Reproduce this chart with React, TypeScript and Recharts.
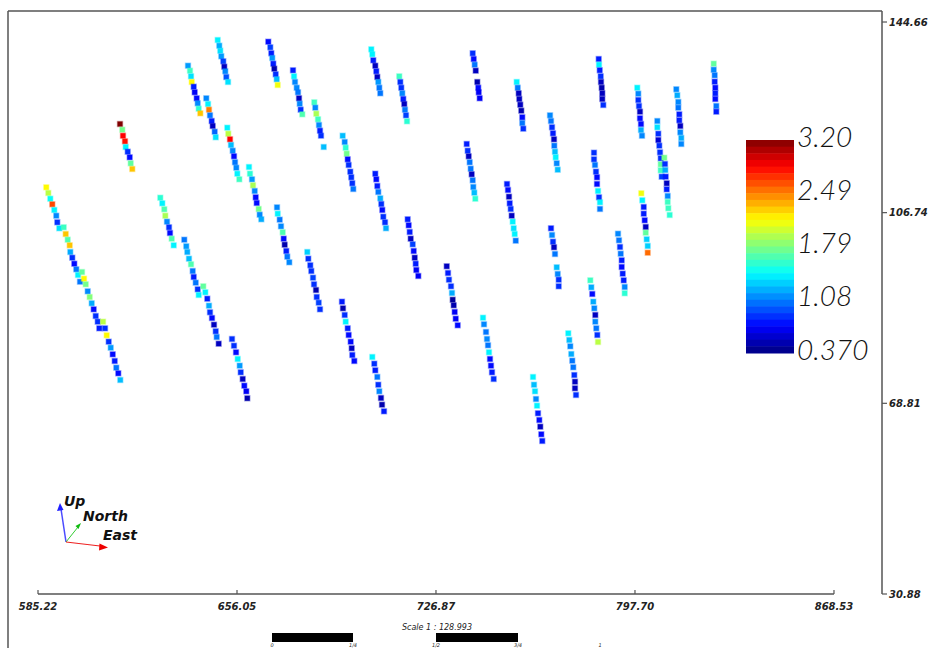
import React from 'react';
import { ReferenceLine, Scatter, ScatterChart, XAxis, YAxis } from 'recharts';

// [easting, elevation, grade]
type Sample = [number, number, number];

const DH01: Sample[] = [[614.41, 124.37, 3.2], [615.23, 123.24, 1.75], [615.47, 122.04, 2.85], [616.18, 120.93, 2.8], [616.43, 119.8, 1.4], [617.15, 118.86, 0.85], [617.86, 117.75, 0.75], [618.21, 116.55, 1.7], [618.78, 115.42, 2.3]];
const DH02: Sample[] = [[649.18, 141.08, 1.4], [649.75, 139.95, 1.2], [650.1, 138.95, 1.35], [650.46, 137.84, 1.15], [651.17, 136.85, 0.9], [651.53, 135.77, 0.55], [651.88, 134.86, 1.1], [652.24, 133.72, 0.95], [652.85, 132.73, 1.35]];
const DH03: Sample[] = [[667.19, 140.74, 0.75], [667.9, 139.63, 0.9], [668.26, 138.44, 0.8], [668.61, 137.5, 1.15], [668.97, 136.37, 0.8], [669.33, 135.37, 0.5], [669.82, 134.26, 0.85], [670.18, 133.27, 1.25], [670.53, 132.13, 2.1]];
const DH04: Sample[] = [[675.98, 135.06, 0.8], [676.34, 133.86, 1.4], [676.69, 132.73, 1.1], [677.3, 131.59, 1.1], [677.76, 130.68, 1.05], [678.12, 129.49, 0.55], [678.37, 128.41, 1.1], [678.72, 127.22, 0.85], [679.29, 126.3, 1.65]];
const DH05: Sample[] = [[638.61, 135.97, 1.15], [639.32, 134.98, 1.6], [639.68, 133.86, 1.35], [639.93, 132.73, 2.15], [640.64, 131.79, 0.8], [640.99, 130.68, 0.7], [641.7, 129.49, 0.75], [642.06, 128.49, 1.1], [642.42, 127.42, 1.55], [642.99, 126.5, 2.3]];
const DH06: Sample[] = [[645.12, 129.49, 1.1], [645.73, 128.35, 1.4], [646.08, 127.22, 2.5], [646.44, 126.1, 1.05], [647.04, 124.97, 0.8], [647.4, 123.98, 0.55], [648.11, 122.84, 1.0], [648.47, 121.73, 1.35]];
const DH07: Sample[] = [[652.6, 123.64, 1.4], [652.95, 122.44, 1.95], [653.56, 121.33, 2.85], [653.91, 120.2, 1.25], [654.52, 119.06, 1.1], [654.98, 117.95, 0.75], [655.34, 116.76, 1.05], [655.8, 115.68, 1.1], [656.16, 114.49, 1.4], [656.87, 113.37, 1.6]];
const DH08: Sample[] = [[660.32, 115.82, 1.4], [660.68, 114.49, 1.55], [661.39, 113.37, 1.15], [661.74, 112.18, 1.9], [662.35, 111.05, 1.1], [662.7, 109.79, 0.75], [663.06, 108.66, 0.75], [663.77, 107.47, 1.75], [664.13, 106.33, 1.1], [664.7, 105.42, 1.2]];
const DH09: Sample[] = [[670.29, 107.8, 1.1], [670.54, 106.53, 1.4], [671.25, 105.34, 1.05], [671.71, 104.02, 1.1], [672.31, 102.83, 1.65], [672.67, 101.56, 0.75], [673.02, 100.36, 0.5], [673.59, 99.11, 0.8], [673.95, 97.98, 1.05], [674.66, 96.86, 1.1]];
const DH10: Sample[] = [[588.17, 111.78, 2.15], [588.89, 110.65, 1.95], [589.6, 109.51, 1.45], [590.31, 108.4, 2.65], [591.02, 107.27, 1.4], [591.73, 106.13, 1.1], [592.09, 104.82, 0.85], [592.8, 103.63, 1.35]];
const DH11: Sample[] = [[594.37, 103.83, 1.6], [595.08, 102.49, 2.3], [595.79, 101.36, 1.65], [596.5, 100.24, 2.3], [596.72, 98.91, 1.2], [597.43, 97.78, 0.85], [598.14, 96.58, 0.75], [598.85, 95.47, 1.05], [599.46, 94.34, 1.4], [600.17, 93.0, 1.05]];
const DH12: Sample[] = [[600.88, 94.93, 1.7], [601.59, 93.6, 2.15], [602.2, 92.49, 1.75], [602.91, 91.09, 1.1], [603.62, 89.96, 1.8], [604.33, 88.71, 1.2], [605.04, 87.51, 0.75], [605.76, 86.18, 0.85], [606.47, 85.05, 0.85], [607.04, 83.73, 0.8]];
const DH13: Sample[] = [[608.36, 85.05, 1.95], [609.07, 83.73, 0.85], [609.67, 82.34, 2.15], [610.38, 81.07, 0.85], [611.1, 79.87, 1.15], [611.81, 78.56, 0.75], [612.52, 77.23, 0.8], [613.09, 75.9, 1.05], [613.8, 74.78, 0.75], [614.51, 73.45, 1.25]];
const DH14: Sample[] = [[628.75, 109.71, 1.55], [629.46, 108.6, 1.4], [630.17, 107.41, 1.65], [630.53, 106.13, 1.9], [631.13, 104.94, 1.1], [631.85, 103.83, 0.85], [632.2, 102.69, 0.75], [632.81, 101.56, 1.65], [633.52, 100.24, 1.4]];
const DH15: Sample[] = [[637.29, 101.36, 1.05], [638.0, 100.05, 1.15], [638.36, 98.91, 1.2], [638.96, 97.58, 1.25], [639.68, 96.47, 1.65], [640.28, 95.13, 1.05], [640.64, 93.94, 0.8], [641.35, 92.81, 1.05], [642.06, 91.49, 0.85], [642.42, 90.36, 1.4]];
const DH16: Sample[] = [[644.05, 92.09, 1.7], [644.77, 90.9, 1.4], [645.48, 89.62, 0.8], [646.08, 88.23, 1.2], [646.44, 86.92, 0.85], [647.15, 85.78, 0.75], [647.86, 84.45, 0.55], [648.47, 83.14, 0.85], [648.82, 82.0, 1.05], [649.53, 80.67, 0.55]];
const DH17: Sample[] = [[654.27, 81.61, 0.85], [654.98, 80.27, 0.85], [655.7, 78.96, 0.75], [656.3, 77.63, 1.4], [657.01, 76.3, 1.15], [657.37, 74.98, 0.85], [658.08, 73.65, 0.55], [658.65, 72.32, 0.75], [659.36, 71.2, 0.7], [659.72, 69.81, 0.5]];
const DH18: Sample[] = [[681.07, 98.91, 1.3], [681.43, 97.58, 0.85], [682.14, 96.27, 0.85], [682.5, 95.13, 0.85], [683.1, 93.8, 0.9], [683.46, 92.49, 0.85], [684.17, 91.35, 0.5], [684.42, 89.96, 0.85], [685.13, 88.83, 0.9], [685.59, 87.51, 0.85]];
const DH19: Sample[] = [[703.85, 139.23, 1.4], [704.21, 138.24, 1.4], [704.56, 137.04, 0.8], [705.27, 135.97, 0.55], [705.63, 134.86, 0.8], [705.99, 133.72, 0.55], [706.34, 132.73, 1.15], [706.7, 131.59, 1.05], [707.05, 130.48, 1.05]];
const DH20: Sample[] = [[713.81, 133.86, 1.6], [714.17, 132.73, 0.85], [714.53, 131.59, 0.85], [714.88, 130.48, 1.1], [715.24, 129.35, 0.8], [715.59, 128.35, 0.55], [715.84, 127.22, 1.05], [716.2, 126.1, 0.9], [716.55, 124.91, 1.55]];
const DH21: Sample[] = [[683.56, 128.69, 1.6], [683.92, 127.62, 1.1], [684.27, 126.42, 1.9], [684.88, 125.31, 1.6], [685.23, 124.17, 1.1], [685.59, 123.04, 0.8], [685.95, 122.05, 0.85], [686.91, 119.8, 1.25]];
const DH22: Sample[] = [[693.66, 122.04, 1.25], [694.38, 120.79, 1.1], [694.73, 119.66, 1.55], [695.09, 118.47, 1.75], [695.45, 117.35, 0.75], [695.8, 116.22, 0.85], [696.37, 114.89, 0.85], [696.73, 113.77, 0.85], [697.09, 112.58, 0.85], [697.44, 111.44, 1.05]];
const DH23: Sample[] = [[705.27, 114.49, 0.8], [705.63, 113.37, 0.75], [705.99, 112.04, 0.8], [706.34, 110.85, 1.05], [707.05, 109.59, 1.2], [707.41, 108.46, 0.85], [707.77, 107.27, 0.75], [708.12, 105.93, 0.85], [708.73, 104.82, 0.85], [709.08, 103.63, 1.2]];
const DH24: Sample[] = [[716.8, 105.42, 0.8], [717.16, 104.22, 0.75], [717.52, 102.89, 0.8], [717.87, 101.56, 0.55], [718.58, 100.44, 0.9], [718.94, 99.11, 0.75], [719.3, 97.78, 0.55], [719.65, 96.58, 0.8], [719.87, 95.33, 0.7], [720.58, 94.14, 0.7]];
const DH25: Sample[] = [[739.94, 138.44, 0.85], [740.3, 137.3, 0.75], [740.65, 136.17, 1.05], [741.01, 134.98, 0.55], [741.58, 132.73, 0.5], [741.93, 131.59, 0.75], [742.08, 130.68, 0.7], [742.43, 129.49, 0.7]];
const DH26: Sample[] = [[755.6, 132.73, 1.4], [755.96, 131.59, 1.05], [756.31, 130.48, 0.55], [756.53, 129.35, 0.55], [756.88, 128.21, 0.55], [757.24, 127.02, 0.5], [757.59, 125.71, 0.75], [757.59, 124.57, 1.05], [757.95, 123.44, 0.85]];
const DH27: Sample[] = [[784.79, 137.3, 0.8], [784.9, 136.17, 1.4], [785.15, 135.06, 0.8], [785.5, 133.86, 0.85], [785.61, 132.73, 0.55], [785.86, 131.59, 0.5], [786.07, 130.48, 0.55], [786.07, 129.35, 0.55], [786.42, 128.15, 0.85]];
const DH28: Sample[] = [[767.46, 126.1, 1.1], [767.81, 124.97, 1.05], [768.17, 123.72, 0.85], [768.52, 122.52, 0.8], [768.88, 121.33, 0.55], [768.98, 120.06, 1.05], [769.23, 118.86, 1.25], [769.48, 117.75, 1.4], [769.84, 116.55, 1.1], [770.2, 115.28, 1.25]];
const DH29: Sample[] = [[737.8, 120.4, 0.8], [738.16, 119.06, 0.85], [738.51, 117.95, 0.55], [738.87, 116.76, 1.05], [739.23, 115.48, 1.05], [739.58, 114.37, 0.55], [739.94, 113.18, 1.05], [740.15, 111.84, 1.1], [740.51, 110.71, 1.25], [740.87, 109.51, 1.55]];
const DH30: Sample[] = [[752.15, 112.44, 0.8], [752.5, 111.25, 0.75], [752.86, 109.91, 0.55], [753.11, 108.6, 0.8], [753.47, 107.47, 0.85], [753.82, 106.13, 0.55], [754.18, 104.94, 1.4], [754.53, 103.63, 1.35], [754.89, 102.49, 1.4], [755.25, 101.16, 1.05]];
const DH31: Sample[] = [[783.11, 118.67, 0.85], [783.11, 117.35, 0.85], [783.47, 116.22, 1.05], [783.82, 114.89, 0.85], [784.18, 113.77, 0.75], [784.18, 112.44, 0.75], [784.54, 111.05, 1.4], [784.9, 109.79, 0.85], [785.25, 108.8, 1.4], [785.25, 107.47, 1.05]];
const DH32: Sample[] = [[767.81, 103.63, 0.8], [768.17, 102.29, 1.1], [768.52, 100.96, 0.85], [768.88, 99.85, 0.55], [769.23, 98.51, 1.05]];
const DH33: Sample[] = [[769.84, 95.87, 1.25], [770.2, 94.54, 1.1], [770.55, 93.4, 0.85], [770.55, 92.09, 0.85]];
const DH34: Sample[] = [[730.69, 96.07, 0.55], [731.15, 94.73, 0.8], [731.5, 93.4, 0.85], [732.22, 92.09, 0.85], [732.57, 90.76, 1.2], [732.82, 89.42, 0.45], [733.18, 88.31, 0.5], [733.53, 86.98, 0.7], [733.89, 85.64, 0.7], [734.6, 84.33, 0.75]];
const DH35: Sample[] = [[743.61, 85.84, 1.4], [743.96, 84.53, 1.1], [744.67, 83.0, 1.05], [745.03, 81.61, 1.1], [745.39, 80.35, 1.05], [745.74, 78.96, 1.4], [746.1, 77.63, 0.75], [746.45, 76.3, 0.75], [746.81, 74.98, 0.8], [747.41, 73.65, 0.85]];
const DH36: Sample[] = [[693.41, 89.03, 0.8], [693.77, 87.71, 0.5], [694.38, 86.38, 0.85], [694.73, 85.05, 1.4], [695.45, 83.73, 0.8], [695.8, 82.4, 0.75], [696.51, 81.07, 0.75], [696.87, 79.76, 0.55], [697.09, 78.42, 0.8], [697.8, 77.23, 0.75]];
const DH37: Sample[] = [[704.21, 78.03, 1.4], [704.92, 76.69, 0.85], [705.27, 75.38, 0.8], [705.99, 74.05, 1.05], [706.34, 72.51, 0.85], [706.7, 71.2, 1.1], [707.3, 69.87, 0.55], [707.66, 68.54, 0.5], [708.37, 67.22, 0.8]];
const DH38: Sample[] = [[761.41, 74.05, 1.4], [761.76, 72.51, 1.25], [762.12, 71.2, 1.35], [762.47, 69.67, 1.1], [762.83, 68.34, 1.4], [763.18, 66.83, 0.8], [763.65, 65.49, 0.75], [764.0, 64.16, 0.55], [764.36, 62.65, 0.75], [764.71, 61.32, 0.8]];
const DH39: Sample[] = [[773.96, 82.74, 1.4], [774.32, 81.41, 1.25], [774.68, 80.15, 1.1], [775.03, 78.62, 1.2], [775.39, 77.29, 1.05], [775.74, 75.98, 1.05], [776.1, 74.44, 0.85], [776.35, 73.11, 0.55], [776.35, 71.8, 0.55], [776.71, 70.47, 0.85]];
const DH40: Sample[] = [[781.8, 93.28, 1.6], [782.16, 91.89, 1.2], [782.51, 90.56, 0.75], [782.87, 89.03, 1.2], [783.22, 87.71, 1.1], [783.58, 86.38, 0.55], [783.58, 85.05, 1.1], [783.93, 83.73, 1.05], [784.29, 82.4, 0.85], [784.54, 81.01, 1.95]];
const DH41: Sample[] = [[791.66, 102.55, 1.1], [792.01, 101.24, 1.05], [792.37, 99.91, 0.85], [792.62, 98.57, 1.05], [792.97, 97.26, 0.8], [792.97, 95.93, 0.75], [793.33, 94.6, 0.8], [793.68, 93.28, 0.8], [794.04, 91.95, 1.1], [794.04, 90.7, 1.55]];
const DH42: Sample[] = [[799.95, 110.59, 2.1], [800.31, 109.2, 1.4], [800.81, 107.86, 0.8], [800.81, 106.53, 0.8], [801.16, 105.22, 0.75], [801.52, 103.89, 0.55], [801.52, 102.75, 1.7], [801.87, 101.44, 1.3], [802.23, 100.11, 1.3], [802.23, 98.77, 2.55]];
const DH43: Sample[] = [[805.65, 124.97, 1.1], [805.65, 123.72, 1.35], [806.0, 122.44, 0.85], [806.0, 121.19, 0.6], [806.36, 120.06, 0.85], [806.61, 118.74, 0.85], [806.86, 117.55, 0.85], [806.86, 116.36, 1.7], [806.86, 115.16, 1.6], [807.21, 113.89, 0.9]];
const DH44: Sample[] = [[808.13, 117.67, 1.75], [808.38, 116.42, 0.85], [808.49, 115.22, 1.2], [808.63, 113.89, 0.8], [808.99, 112.58, 0.55], [808.99, 111.38, 0.8], [809.34, 110.05, 1.1], [809.34, 108.86, 1.6], [809.56, 107.61, 1.6], [810.05, 106.27, 1.55]];
const DH45: Sample[] = [[798.52, 131.59, 1.4], [798.88, 130.4, 1.1], [798.88, 129.15, 0.85], [799.13, 127.95, 0.85], [799.48, 126.82, 0.55], [799.48, 125.51, 0.75], [799.84, 124.37, 0.75], [799.84, 123.18, 1.2], [800.2, 122.04, 1.1]];
const DH46: Sample[] = [[812.41, 131.28, 1.1], [812.76, 130.08, 1.2], [813.12, 128.75, 1.1], [813.12, 127.62, 1.05], [813.47, 126.3, 0.8], [813.47, 125.11, 0.8], [813.83, 123.98, 0.55], [813.83, 122.72, 1.1], [814.18, 121.59, 1.2], [814.18, 120.4, 1.1]];
const DH47: Sample[] = [[825.72, 136.37, 1.7], [825.72, 135.17, 1.1], [826.07, 134.06, 1.05], [826.07, 132.79, 0.8], [826.29, 131.59, 0.75], [826.29, 130.48, 0.8], [826.29, 129.35, 0.75], [826.64, 127.95, 1.05], [826.64, 126.82, 0.8]];

const HOLES: Sample[][] = [
  DH01, DH02, DH03, DH04, DH05, DH06, DH07, DH08, DH09, DH10, DH11, DH12,
  DH13, DH14, DH15, DH16, DH17, DH18, DH19, DH20, DH21, DH22, DH23, DH24,
  DH25, DH26, DH27, DH28, DH29, DH30, DH31, DH32, DH33, DH34, DH35, DH36,
  DH37, DH38, DH39, DH40, DH41, DH42, DH43, DH44, DH45, DH46, DH47,
];

const X_TICKS = [585.22, 656.05, 726.87, 797.7, 868.53];
const Y_TICKS = [144.66, 106.74, 68.81, 30.88];
const GRADE_TICKS = [3.2, 2.49, 1.79, 1.08, 0.37];
const GRADE_MIN = 0.37;
const GRADE_MAX = 3.2;
const SCALE_LABELS = ['0', '1/4', '1/2', '3/4', '1'];

// view window is a little wider/taller than the labelled range (axis frame)
const X_DOMAIN: [number, number] = [585.22, 885.62];
const Y_DOMAIN: [number, number] = [30.88, 146.85];

const AXIS_COLOR = '#555';
const AXIS_FONT: React.CSSProperties = {
  fontFamily: '"DejaVu Sans", sans-serif',
  fontSize: 10,
  fontWeight: 'bold',
  fontStyle: 'italic',
};

const clamp = (v: number) => Math.max(0, Math.min(1, v));

// classic "jet" ramp
function jet(value: number): string {
  const t = clamp((value - GRADE_MIN) / (GRADE_MAX - GRADE_MIN));
  const r = clamp(1.5 - Math.abs(4 * t - 3));
  const g = clamp(1.5 - Math.abs(4 * t - 2));
  const b = clamp(1.5 - Math.abs(4 * t - 1));
  const hex = (c: number) => Math.round(c * 255).toString(16).padStart(2, '0');
  return `#${hex(r)}${hex(g)}${hex(b)}`;
}

const SampleMark = (props: any) => {
  const { cx, cy, payload } = props;
  if (cx == null || cy == null) return null;
  const color = jet(payload.grade);
  return (
    <rect
      x={cx - 2.5}
      y={cy - 2.5}
      width={5}
      height={5}
      fill={color}
      stroke={color}
      strokeOpacity={0.35}
      strokeWidth={1.4}
    />
  );
};

const XTick = (props: any) => {
  const { x, y, payload } = props;
  return (
    <g>
      <line x1={x} x2={x} y1={y - 4} y2={y} stroke={AXIS_COLOR} strokeWidth={1.2} />
      <text x={x} y={y + 16} textAnchor="middle" fill="#222" style={AXIS_FONT}>
        {Number(payload.value).toFixed(2)}
      </text>
    </g>
  );
};

const YTick = (props: any) => {
  const { x, y, payload } = props;
  return (
    <text x={x} y={y} dy="0.35em" textAnchor="start" fill="#222" style={AXIS_FONT}>
      {Number(payload.value).toFixed(2)}
    </text>
  );
};

const BAR = { x: 746, y: 140, w: 48, h: 213, bands: 32 };

const ColorBar = () => {
  const bandH = BAR.h / BAR.bands;
  const bands = Array.from({ length: BAR.bands }, (_, i) => {
    const v = GRADE_MAX - ((i + 0.5) / BAR.bands) * (GRADE_MAX - GRADE_MIN);
    return <rect key={i} x={BAR.x} y={BAR.y + i * bandH} width={BAR.w} height={bandH + 0.5} fill={jet(v)} />;
  });
  return (
    <g>
      {bands}
      {GRADE_TICKS.map((v) => {
        const ty = BAR.y + ((GRADE_MAX - v) / (GRADE_MAX - GRADE_MIN)) * BAR.h - 3.5;
        return (
          <text
            key={v}
            x={BAR.x + BAR.w + 3}
            y={ty}
            dy="0.36em"
            fill="#111"
            style={{ fontFamily: 'Lato, "Open Sans", sans-serif', fontSize: 28, fontStyle: 'italic', fontWeight: 300 }}
          >
            {v.toPrecision(3)}
          </text>
        );
      })}
    </g>
  );
};

const TRIAD_FONT: React.CSSProperties = {
  fontFamily: '"DejaVu Sans", sans-serif',
  fontSize: 14,
  fontWeight: 'bold',
  fontStyle: 'italic',
};

const OrientationTriad = () => (
  <g>
    <line x1={66} y1={542} x2={61} y2={509} stroke="#4a4aff" strokeWidth={1.5} />
    <polygon points="60,503 57,511 63.5,510" fill="#2020ff" />
    <line x1={66} y1={542} x2={78} y2={527} stroke="#3c3" strokeWidth={1} />
    <polygon points="81,523 75.5,526 78.5,529" fill="#1b1" />
    <line x1={66} y1={542} x2={100} y2={546} stroke="#e22" strokeWidth={1.2} />
    <polygon points="108,547.5 99.5,543.5 99,550.5" fill="#e00" />
    <text x={64} y={506} fill="#111" style={TRIAD_FONT}>Up</text>
    <text x={83} y={521} fill="#111" style={TRIAD_FONT}>North</text>
    <text x={103} y={540} fill="#111" style={TRIAD_FONT}>East</text>
  </g>
);

const SCALE_FONT: React.CSSProperties = {
  fontFamily: '"DejaVu Sans", sans-serif',
  fontStyle: 'italic',
};

// scale bar: alternating filled quarters between 0 and 1
const SCALE_X = [272, 353, 436, 518, 600];

const ScaleBar = () => (
  <g>
    <text x={437} y={630} textAnchor="middle" fill="#222" style={{ ...SCALE_FONT, fontSize: 8 }}>
      Scale 1 : 128.993
    </text>
    <rect x={SCALE_X[0]} y={633} width={SCALE_X[1] - SCALE_X[0]} height={9} fill="#000" />
    <rect x={SCALE_X[2]} y={633} width={SCALE_X[3] - SCALE_X[2]} height={9} fill="#000" />
    {SCALE_LABELS.map((label, i) => (
      <text key={label} x={SCALE_X[i]} y={646.5} textAnchor="middle" fill="#222" style={{ ...SCALE_FONT, fontSize: 5 }}>
        {label}
      </text>
    ))}
  </g>
);

export default function App() {
  const holeData = HOLES.map((hole) => hole.map(([x, y, grade]) => ({ x, y, grade })));

  return (
    <div style={{ position: 'fixed', left: 0, top: 0, width: 930, height: 648, overflow: 'hidden', background: '#fff' }}>
      <ScatterChart width={930} height={648} margin={{ top: 11, right: 0, bottom: 0, left: 38 }}>
        <XAxis
          type="number"
          dataKey="x"
          domain={X_DOMAIN}
          ticks={X_TICKS}
          interval={0}
          height={54}
          axisLine={false}
          tickLine={false}
          tickSize={0}
          tickMargin={0}
          tick={<XTick />}
        />
        <YAxis
          type="number"
          dataKey="y"
          orientation="right"
          domain={Y_DOMAIN}
          ticks={Y_TICKS}
          interval={0}
          width={48}
          axisLine={{ stroke: AXIS_COLOR, strokeWidth: 1.5 }}
          tickLine={{ stroke: AXIS_COLOR, strokeWidth: 1.2 }}
          tickSize={5}
          tickMargin={2}
          tick={<YTick />}
        />
        <ReferenceLine
          segment={[{ x: X_TICKS[0], y: Y_TICKS[3] }, { x: X_TICKS[4], y: Y_TICKS[3] }]}
          stroke={AXIS_COLOR}
          strokeWidth={1.5}
          ifOverflow="visible"
        />
        {holeData.map((samples, i) => (
          <Scatter key={i} data={samples} shape={SampleMark} isAnimationActive={false} />
        ))}
      </ScatterChart>
      <svg width={930} height={648} style={{ position: 'absolute', left: 0, top: 0, pointerEvents: 'none' }}>
        <line x1={8} y1={11} x2={882} y2={11} stroke={AXIS_COLOR} strokeWidth={1.5} />
        <line x1={8} y1={11} x2={8} y2={648} stroke={AXIS_COLOR} strokeWidth={1.5} />
        <ColorBar />
        <OrientationTriad />
        <ScaleBar />
      </svg>
    </div>
  );
}
